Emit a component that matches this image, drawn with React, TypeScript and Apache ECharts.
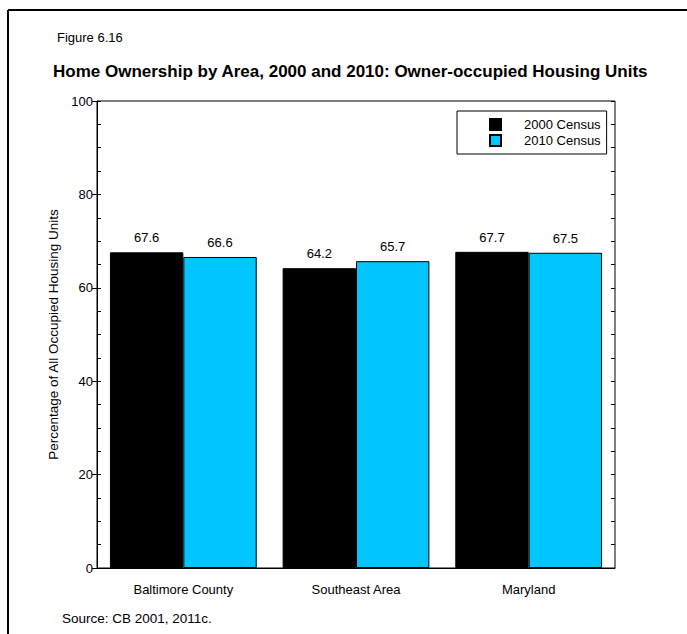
import React, { useEffect, useRef } from "react";
import * as echarts from "echarts";

const categories = ["Baltimore County", "Southeast Area", "Maryland"];
const census2000 = [67.6, 64.2, 67.7];
const census2010 = [66.6, 65.7, 67.5];
const seriesNames = ["2000 Census", "2010 Census"];
const FONT = "'Liberation Sans', Arial, sans-serif";

export default function App() {
  const ref = useRef<HTMLDivElement>(null);
  useEffect(() => {
    const chart = echarts.init(ref.current!, null, { renderer: "svg" });
    const hiddenAxis = (position: string, extra: any = {}) => ({
      type: "value",
      position,
      min: 0,
      max: 100,
      interval: 5,
      axisLine: { show: false },
      axisLabel: { show: false },
      splitLine: { show: false },
      axisTick: { show: true, inside: true, length: 4, lineStyle: { color: "#000" } },
      ...extra,
    });
    chart.setOption({
      animation: false,
      textStyle: { fontFamily: FONT },
      grid: { left: 97, top: 101, right: 72, bottom: 66, show: true, borderColor: "#000", borderWidth: 1, backgroundColor: "#fff" },
      legend: {
        orient: "vertical",
        left: 457,
        top: 111,
        width: 152,
        borderColor: "#000",
        borderWidth: 1,
        padding: [7, 6, 7, 32],
        itemWidth: 11,
        itemHeight: 11,
        itemGap: 3,
        icon: "rect",
        textStyle: { fontSize: 13, color: "#000", fontFamily: FONT, padding: [0, 0, 0, 18] },
        data: seriesNames,
      },
      xAxis: {
        type: "category",
        data: categories,
        axisLine: { show: true, lineStyle: { color: "#000" } },
        axisTick: { show: false },
        axisLabel: { fontSize: 13, color: "#000", margin: 15, fontFamily: FONT },
      },
      yAxis: [
        {
          type: "value",
          min: 0,
          max: 100,
          interval: 20,
          name: "Percentage of All Occupied Housing Units",
          nameLocation: "middle",
          nameGap: 26,
          nameTextStyle: { fontSize: 13.5, color: "#000", fontFamily: FONT },
          axisLine: { show: true, lineStyle: { color: "#000" } },
          axisTick: { show: true, inside: false, length: 5, lineStyle: { color: "#000" } },
          axisLabel: { fontSize: 13, color: "#000", margin: 4, fontFamily: FONT },
          splitLine: { show: false },
        },
        hiddenAxis("left"),
        hiddenAxis("right"),
      ],
      series: [
        {
          name: seriesNames[0],
          type: "bar",
          data: census2000,
          barGap: "0%",
          barCategoryGap: "15%",
          itemStyle: { color: "#000", borderColor: "#000", borderWidth: 1 },
          label: { show: true, position: "top", distance: 8, fontSize: 13, color: "#000", fontFamily: FONT },
        },
        {
          name: seriesNames[1],
          type: "bar",
          data: census2010,
          barGap: "0%",
          barCategoryGap: "15%",
          itemStyle: { color: "#00C6FF", borderColor: "#000", borderWidth: 1 },
          label: { show: true, position: "top", distance: 8, fontSize: 13, color: "#000", fontFamily: FONT },
        },
      ],
      graphic: [
        { type: "line", shape: { x1: 8, y1: 10, x2: 687, y2: 10 }, style: { stroke: "#000", lineWidth: 2 } },
        { type: "line", shape: { x1: 8, y1: 10, x2: 8, y2: 634 }, style: { stroke: "#000", lineWidth: 2 } },
        { type: "text", left: 57, top: 31, style: { text: "Figure 6.16", fontSize: 13, fill: "#000", fontFamily: FONT } },
        {
          type: "text",
          left: 53,
          top: 63,
          style: { text: "Home Ownership by Area, 2000 and 2010: Owner-occupied Housing Units", fontSize: 17, fontWeight: "bold", fill: "#000", fontFamily: FONT },
        },
        { type: "text", left: 62, top: 611, style: { text: "Source: CB 2001, 2011c.", fontSize: 13.5, fill: "#000", fontFamily: FONT } },
      ],
    });
    return () => chart.dispose();
  }, []);
  return <div ref={ref} style={{ position: "fixed", left: 0, top: 0, width: 687, height: 634, background: "#fff" }} />;
}
